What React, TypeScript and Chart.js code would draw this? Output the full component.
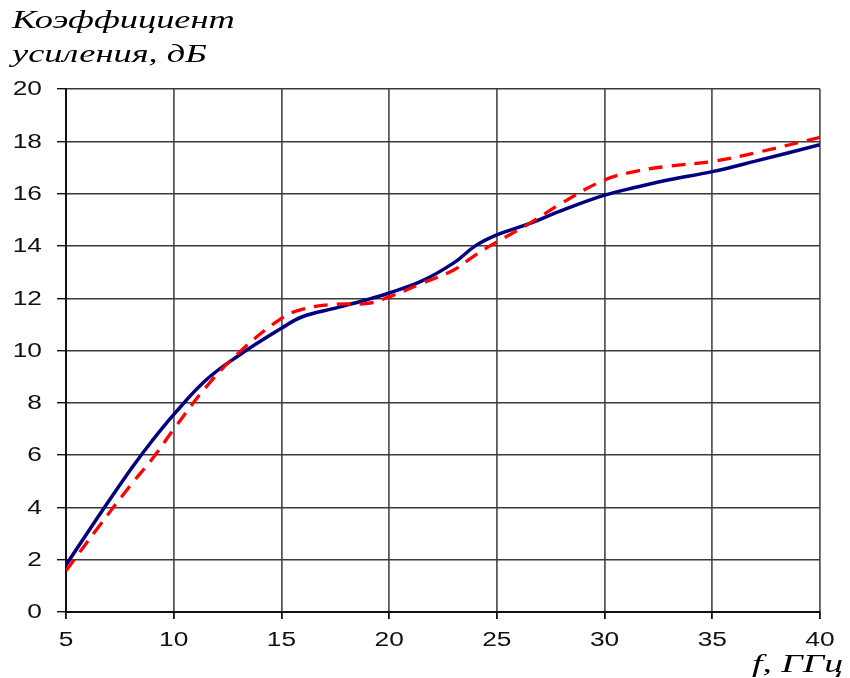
import React, { useEffect, useRef } from "react";
import { Chart, registerables } from "chart.js";

Chart.register(...registerables);

// Frequency, GHz
const freqs = [5, 6.5, 8, 9, 10, 11.5, 13, 15, 16, 17.5, 19, 20, 21.5, 23, 24, 25, 26.5, 28, 30, 31.5, 33, 35, 37, 40];
// Gain, dB (solid navy curve)
const gainSolid = [1.8, 3.65, 5.45, 6.55, 7.55, 8.87, 9.8, 10.85, 11.3, 11.62, 11.95, 12.2, 12.65, 13.35, 14.0, 14.42, 14.85, 15.35, 15.94, 16.25, 16.53, 16.84, 17.24, 17.87];
// Gain, dB (dashed red curve)
const gainDashed = [1.58, 3.24, 4.85, 5.85, 6.99, 8.6, 9.9, 11.23, 11.58, 11.77, 11.8, 12.05, 12.56, 13.08, 13.65, 14.15, 14.85, 15.63, 16.52, 16.86, 17.05, 17.23, 17.56, 18.15];

const xTicks = [5, 10, 15, 20, 25, 30, 35, 40];
const yTicks = [0, 2, 4, 6, 8, 10, 12, 14, 16, 18, 20];
const yTitleLines = ["Коэффициент", "усиления, дБ"];
const xTitle = "f, ГГц";

const STRETCH = 1.35;

function drawStretched(ctx: CanvasRenderingContext2D, text: string, x: number, y: number, k = STRETCH) {
  ctx.save();
  ctx.translate(x, y);
  ctx.scale(k, 1);
  ctx.fillText(text, 0, 0);
  ctx.restore();
}

const textPlugin = {
  id: "stretchedText",
  afterDraw(chart: any) {
    const ctx: CanvasRenderingContext2D = chart.ctx;
    const xs = chart.scales.x;
    const ys = chart.scales.y;
    ctx.save();
    ctx.fillStyle = "#111";
    ctx.font = '19.5px "Liberation Sans", Arial, sans-serif';
    ctx.textAlign = "right";
    ctx.textBaseline = "middle";
    for (const v of yTicks) {
      drawStretched(ctx, String(v), 42, ys.getPixelForValue(v) + 1);
    }
    ctx.textAlign = "center";
    ctx.textBaseline = "alphabetic";
    for (const v of xTicks) {
      drawStretched(ctx, String(v), xs.getPixelForValue(v), 646);
    }
    ctx.fillStyle = "#000";
    ctx.font = 'italic 26px "Liberation Serif", "Times New Roman", serif';
    ctx.textAlign = "left";
    ctx.strokeStyle = "#000";
    ctx.lineWidth = 0.5;
    drawStretched(ctx, yTitleLines[0], 12, 28, 1.4);
    drawStretched(ctx, yTitleLines[1], 12, 62, 1.4);
    drawStretched(ctx, xTitle, 752, 672, 1.45);
    ctx.restore();
  },
};

export default function App() {
  const ref = useRef<HTMLCanvasElement | null>(null);

  useEffect(() => {
    if (!ref.current) return;
    const chart = new Chart(ref.current, {
      type: "line",
      data: {
        datasets: [
          {
            label: "dashed",
            data: freqs.map((f, i) => ({ x: f, y: gainDashed[i] })),
            borderColor: "#ff0000",
            borderWidth: 3.3,
            borderDash: [14, 9],
            pointRadius: 0,
            tension: 0.4,
            fill: false,
          },
          {
            label: "solid",
            data: freqs.map((f, i) => ({ x: f, y: gainSolid[i] })),
            borderColor: "#00007f",
            borderWidth: 3.5,
            pointRadius: 0,
            tension: 0.4,
            fill: false,
          },
        ],
      },
      options: {
        responsive: false,
        animation: false,
        layout: { padding: { left: 0, top: 89, right: 30, bottom: 0 } },
        plugins: { legend: { display: false }, tooltip: { enabled: false } },
        scales: {
          x: {
            type: "linear",
            min: 5,
            max: 40,
            ticks: { stepSize: 5, display: false },
            grid: { color: "#5a5a5a", lineWidth: 1.8, tickLength: 7, tickColor: "#111", drawTicks: true },
            border: { color: "#111", width: 2 },
            afterFit: (s: any) => { s.height = 66; },
          },
          y: {
            type: "linear",
            min: 0,
            max: 20,
            ticks: { stepSize: 2, display: false },
            grid: { color: "#3a3a3a", lineWidth: 1.4, tickLength: 9, tickColor: "#111", drawTicks: true },
            border: { color: "#111", width: 2 },
            afterFit: (s: any) => { s.width = 66; },
          },
        },
      },
      plugins: [textPlugin],
    } as any);
    return () => chart.destroy();
  }, []);

  return (
    <div style={{ position: "fixed", left: 0, top: 0, width: 850, height: 678, background: "#fff" }}>
      <canvas ref={ref} width={850} height={678} style={{ width: 850, height: 678, display: "block" }} />
    </div>
  );
}
